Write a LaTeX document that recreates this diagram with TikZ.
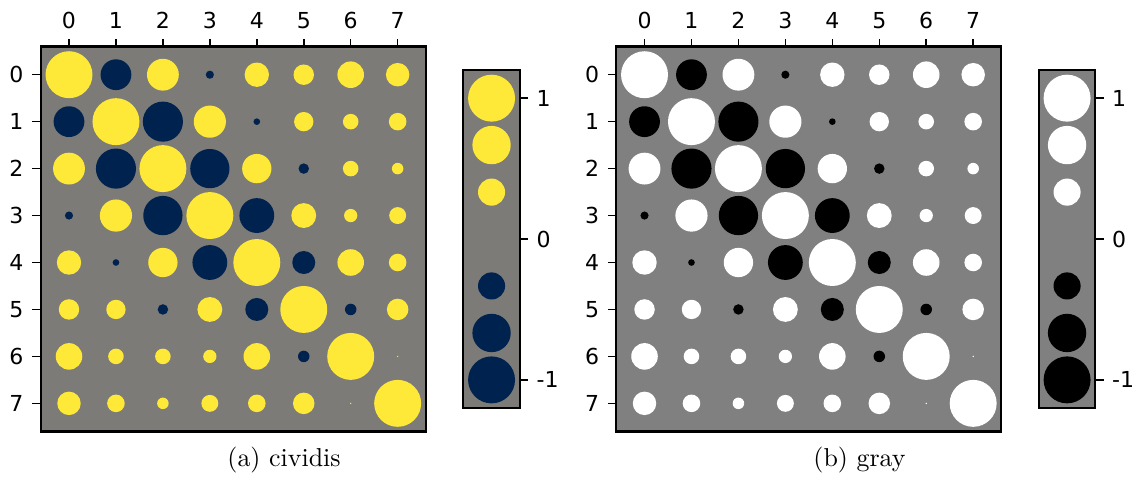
\documentclass[tikz,border=0pt]{standalone}
\usepackage{fontspec}
\newfontfamily\ticksfont{DejaVu Sans}
\definecolor{civyellow}{HTML}{FEE838}
\definecolor{civblue}{HTML}{00224E}
\definecolor{civgray}{HTML}{7C7B78}
\definecolor{midgray}{HTML}{808080}
\tikzset{
    ticklabel/.style={font={\ticksfont\fontsize{8.5}{9}\selectfont}, inner sep=0pt},
    captionlabel/.style={font={\fontsize{10}{12}\selectfont}, inner sep=0pt},
    axisframe/.style={draw=black, line width=0.8pt},
    tickmark/.style={line width=0.6pt},
}
% correlation values, one row per variable
\def\corrdata{{1,-0.43,0.46,-0.03,0.27,0.19,0.32,0.25},
    {-0.43,1,-0.73,0.47,-0.02,0.17,0.11,0.14},
    {0.46,-0.73,1,-0.70,0.39,-0.05,0.11,0.06},
    {-0.03,0.47,-0.70,1,-0.55,0.28,0.08,0.13},
    {0.27,-0.02,0.39,-0.55,1,-0.24,0.32,0.14},
    {0.19,0.17,-0.05,0.28,-0.24,1,-0.06,0.21},
    {0.32,0.11,0.11,0.08,0.32,-0.06,1,0.001},
    {0.25,0.14,0.06,0.13,0.14,0.21,0.001,1}}
\begin{document}
\begin{tikzpicture}[x=18.12pt, y=-18.12pt]
    \useasboundingbox (-1.4696,-1.591) rectangle (22.747,8.590);
    \foreach \ox/\p/\poscol/\negcol/\bgcol/\captext in {0/a/civyellow/civblue/civgray/{(a) cividis}, 12.258/b/white/black/midgray/{(b) gray}} {
    \begin{scope}[shift={(\ox,0)}]
        % Draw the matrix of circles
        \fill[\bgcol] (-0.6,-0.6) rectangle (7.6,7.6);
        \foreach \row [count=\i from 0] in \corrdata {
            \foreach \v [count=\j from 0] in \row {
                \ifdim \v pt<0pt \def\col{\negcol}\else\def\col{\poscol}\fi
                \fill[\col] (\j,\i) circle[radius={0.5*sqrt(abs(\v))}];
            }
        }
        \draw[axisframe] (-0.6,-0.6) rectangle (7.6,7.6);
        \foreach \k in {0,...,7} {
            \draw[tickmark] (\k,-0.6) -- (\k,-0.75);
            \node (\p-col\k) at (\k,-1.15) [ticklabel] {\k};
            \draw[tickmark] (-0.6,\k) -- (-0.78,\k);
            \node (\p-row\k) at (-0.958,\k) [ticklabel, anchor=east] {\k};
        }
        % Draw the legend
        \fill[\bgcol] (8.4,-0.1) rectangle (9.6,7.1);
        \foreach \v in {1,0.667,0.333,-0.333,-0.667,-1} {
            \ifdim \v pt<0pt \def\col{\negcol}\else\def\col{\poscol}\fi
            \fill[\col] (9,3.5-3*\v) circle[radius={0.5*sqrt(abs(\v))}];
        }
        \draw[axisframe] (8.4,-0.1) rectangle (9.6,7.1);
        \foreach \t/\y in {1/0.5,0/3.5,-1/6.5} {
            \draw[tickmark] (9.6,\y) -- (9.78,\y);
            \node (\p-leg\t) at (9.95,\y) [ticklabel, anchor=west] {\t};
        }
        \node (\p-caption) at (4.58,8.2) [captionlabel] {\captext};
    \end{scope}
    }
\end{tikzpicture}
\end{document}
